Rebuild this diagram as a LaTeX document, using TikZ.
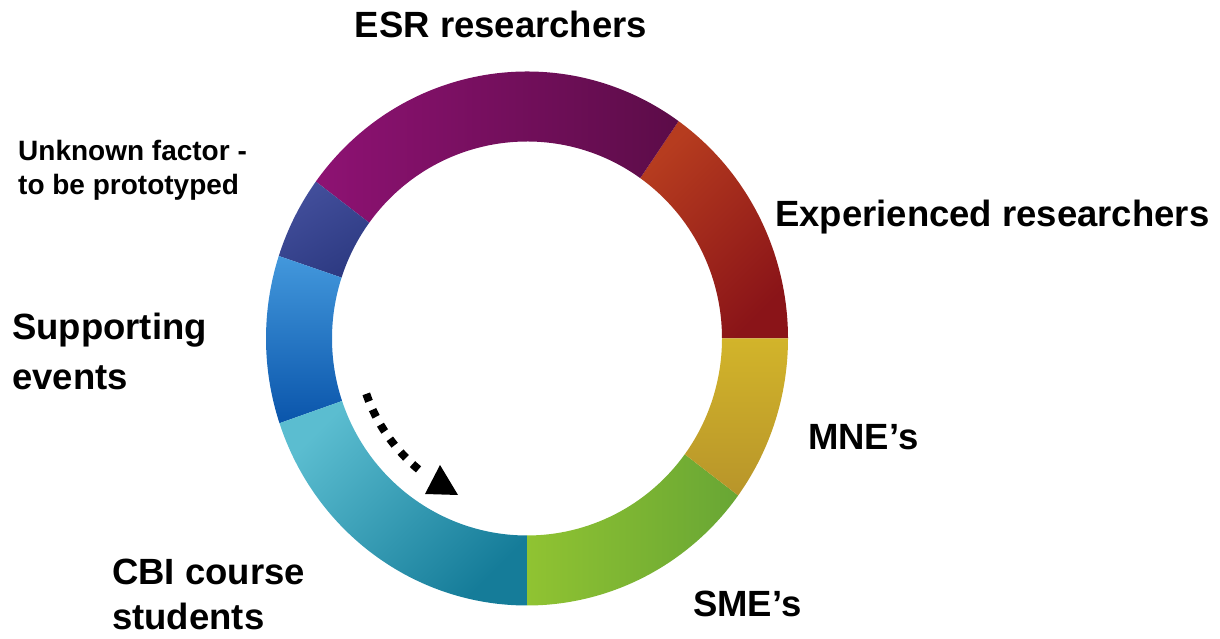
\documentclass[tikz,border=0pt]{standalone}
\usepackage{fontspec}
\setmainfont{Liberation Sans}
\usetikzlibrary{calc}
\definecolor{redA}{HTML}{B63C1F}
\definecolor{redB}{HTML}{8A1418}
\definecolor{purA}{HTML}{8E1273}
\definecolor{purB}{HTML}{5C0C48}
\definecolor{indA}{HTML}{434F9C}
\definecolor{indB}{HTML}{2D3A82}
\definecolor{bluA}{HTML}{4398DC}
\definecolor{bluB}{HTML}{0A55AB}
\definecolor{teaA}{HTML}{5BBDD0}
\definecolor{teaB}{HTML}{157C99}
\definecolor{greA}{HTML}{90C332}
\definecolor{greB}{HTML}{68A634}
\definecolor{yelA}{HTML}{D2B42A}
\definecolor{yelB}{HTML}{B8952A}
\newcommand\ringseg[5]{\shade[top color=#3,bottom color=#4,shading angle=#5]
  ($(C)+(#1:261pt and 267pt)$) arc[start angle=#1,end angle=#2,x radius=261pt,y radius=267pt]
  -- ($(C)+(#2:195pt and 197pt)$) arc[start angle=#2,end angle=#1,x radius=195pt,y radius=197pt] -- cycle;}
\begin{document}
\begin{tikzpicture}[x=1pt,y=1pt,
  lbl/.style={font=\fontsize{36.5}{44}\selectfont\bfseries, inner sep=0pt, anchor=base west},
  slbl/.style={lbl, font=\fontsize{28}{34}\selectfont\bfseries}]
\useasboundingbox (0,0) rectangle (1220,639);
\coordinate (C) at (527,300.5);
% ring segments
\ringseg{0}{54.5}{redA}{redB}{45}
\ringseg{54.5}{144}{purA}{purB}{90}
\ringseg{144}{162}{indA}{indB}{30}
\ringseg{162}{198.5}{bluA}{bluB}{0}
\ringseg{198.5}{270}{teaA}{teaB}{45}
\ringseg{270}{324}{greA}{greB}{90}
\ringseg{324}{360}{yelA}{yelB}{0}
% dotted arrow
\coordinate (arrS) at ($(C)+(199:170pt)$);
\draw[line width=8pt, dash pattern=on 8pt off 9pt] (arrS) arc[start angle=199,end angle=231,radius=170pt];
\coordinate (t1) at (440,174);
\coordinate (t2) at (425,145);
\coordinate (t3) at (458,144);
\fill[black] (t1) -- (t2) -- (t3) -- cycle;
% labels
\node[lbl, anchor=base] (esr) at (501,601) {ESR researchers};
\node[lbl] (exp) at (775,412) {Experienced researchers};
\node[lbl] (mne) at (808,189) {MNE’s};
\node[lbl] (sme) at (693,22) {SME’s};
\node[lbl] (cbi1) at (112,54) {CBI course};
\node[lbl] (cbi2) at (112,9) {students};
\node[lbl] (sup1) at (12,299) {Supporting};
\node[lbl] (sup2) at (12,249) {events};
\node[slbl] (unk1) at (18,478) {Unknown factor -};
\node[slbl] (unk2) at (18,444) {to be prototyped};
\end{tikzpicture}
\end{document}
